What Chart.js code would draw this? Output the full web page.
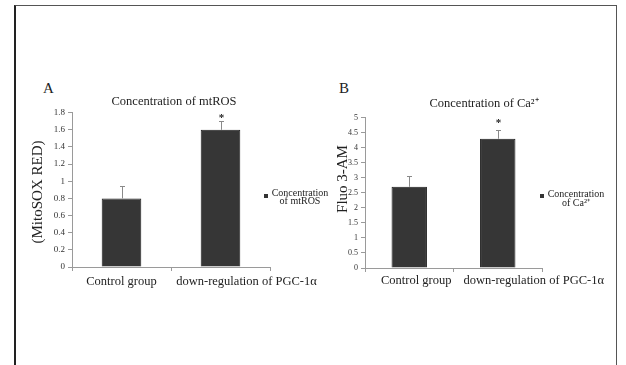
<!DOCTYPE html>
<html><head><meta charset="utf-8">
<script src="https://cdn.jsdelivr.net/npm/chart.js@4"></script>
<style>
html,body{margin:0;padding:0;background:#fff;width:626px;height:365px;overflow:hidden;position:relative;font-family:"Liberation Serif",serif;}
#frame{position:absolute;left:14px;top:5px;width:603px;height:400px;border-left:2px solid #222;border-top:1px solid #555;border-right:1px solid #555;box-sizing:border-box;}
.panel{position:absolute;font-family:"Liberation Serif",serif;font-size:15px;color:#222;line-height:15px;}
#wa{position:absolute;left:15px;top:75px;width:315px;height:225px;}
#wb{position:absolute;left:330px;top:75px;width:296px;height:225px;}
</style></head><body>
<div id="frame"></div>
<div class="panel" style="left:43px;top:81px;">A</div>
<div class="panel" style="left:339px;top:81px;">B</div>
<div id="wa"><canvas id="ca"></canvas></div>
<div id="wb"><canvas id="cb"></canvas></div>
<script>
// ---- data ----
const categories = ['Control group', 'down-regulation of PGC-1α'];
const mtrosValues = [0.8, 1.6];
const mtrosErrors = [0.15, 0.10];
const caValues = [2.7, 4.3];
const caErrors = [0.35, 0.28];
const significant = [false, true];
const mtrosAxisMax = 1.8, mtrosStep = 0.2;
const caAxisMax = 5, caStep = 0.5;
const titleA = 'Concentration of mtROS';
const titleB = 'Concentration of Ca²⁺';
const yTitleA = '(MitoSOX RED)';
const yTitleB = 'Fluo 3-AM';
const legendA = ['Concentration', 'of mtROS'];
const legendB = ['Concentration', 'of Ca²⁺'];

const SERIF = '"Liberation Serif", "Times New Roman", serif';

const decor = {
  id: 'decor',
  afterDatasetsDraw(chart, args, o) {
    const ctx = chart.ctx, xs = chart.scales.x, ys = chart.scales.y;
    const ds = chart.data.datasets[0];
    ctx.save();
    ds.data.forEach((v, i) => {
      const px = Math.round(xs.getPixelForValue(i)) + 0.5;
      const base = ys.getPixelForValue(v);
      const top = Math.round(ys.getPixelForValue(v + o.errors[i])) + 0.5;
      ctx.strokeStyle = '#8a8a8a'; ctx.lineWidth = 1;
      ctx.beginPath();
      ctx.moveTo(px, base); ctx.lineTo(px, top);
      ctx.moveTo(px - 2.5, top); ctx.lineTo(px + 2.5, top);
      ctx.stroke();
      if (o.significant[i]) {
        ctx.fillStyle = '#222';
        ctx.font = 'bold 11px ' + SERIF;
        ctx.textAlign = 'center'; ctx.textBaseline = 'middle';
        ctx.fillText('*', px, top - o.starGap + 3);
      }
    });
    ctx.restore();
  },
  afterDraw(chart, args, o) {
    const ctx = chart.ctx, xs = chart.scales.x;
    ctx.save();
    ctx.fillStyle = '#222';
    ctx.font = '12.5px ' + SERIF;
    ctx.textAlign = 'center'; ctx.textBaseline = 'middle';
    chart.data.labels.forEach((l, i) => {
      ctx.fillText(l, xs.getPixelForValue(i) + o.labelShift[i], xs.top + o.labelGap);
    });
    // y title
    ctx.save();
    ctx.translate(o.yTitlePos[0], o.yTitlePos[1]);
    ctx.rotate(-Math.PI / 2);
    ctx.font = '15px ' + SERIF;
    ctx.fillText(o.yTitle, 0, 0);
    ctx.restore();
    // legend
    const L = o.legend;
    ctx.fillStyle = '#333';
    ctx.fillRect(L.box[0] - 2, L.box[1] - 2, 4, 4);
    ctx.fillStyle = '#222';
    ctx.font = '10px ' + SERIF;
    L.lines.forEach((t, k) => ctx.fillText(t, L.text[0], L.text[1] + k * L.lh));
    ctx.restore();
  }
};

function makeChart(id, values, errors, max, step, title, yTitle, legendLines, lay) {
  return new Chart(document.getElementById(id), {
    type: 'bar',
    data: {
      labels: categories,
      datasets: [{
        label: title,
        data: values,
        backgroundColor: '#363636',
        borderColor: '#1c1c1c',
        borderWidth: 1,
        categoryPercentage: 1,
        barPercentage: 0.4
      }]
    },
    options: {
      responsive: true,
      maintainAspectRatio: false,
      animation: false,
      events: [],
      layout: { padding: { left: lay.pl, right: 0, top: 0, bottom: 0 } },
      plugins: {
        legend: { display: false },
        tooltip: { enabled: false },
        title: {
          display: true, text: title, color: '#222',
          font: { family: SERIF, size: 12.5, weight: 'normal', lineHeight: 1.2 },
          padding: { top: lay.tpt, bottom: lay.tpb }
        },
        decor: {
          errors: errors, significant: significant, starGap: lay.starGap,
          labelShift: lay.labelShift, labelGap: lay.labelGap,
          yTitle: yTitle, yTitlePos: lay.yTitlePos,
          legend: { box: lay.legBox, text: lay.legText, lh: lay.legLh, lines: legendLines }
        }
      },
      scales: {
        x: {
          grid: { display: true, drawOnChartArea: false, drawTicks: true, tickLength: 4, color: '#9a9a9a', offset: true },
          border: { display: true, color: '#9a9a9a', width: 1 },
          ticks: { display: false },
          afterFit(s) { s.height = lay.xh; }
        },
        y: {
          min: 0, max: max,
          grid: { display: true, drawOnChartArea: false, drawTicks: true, tickLength: 4, color: '#9a9a9a' },
          border: { display: true, color: '#9a9a9a', width: 1 },
          ticks: {
            stepSize: step, padding: 3, color: '#333',
            font: { family: SERIF, size: lay.tickSize },
            callback: v => String(+Number(v).toFixed(2))
          },
          afterFit(s) { s.width = lay.yw; }
        },
        y2: {
          position: 'right', display: true,
          grid: { display: false }, border: { display: false },
          ticks: { display: false },
          afterFit(s) { s.width = lay.y2w; }
        }
      }
    },
    plugins: [decor]
  });
}

makeChart('ca', mtrosValues, mtrosErrors, mtrosAxisMax, mtrosStep, titleA, yTitleA, legendA, {
  pl: 3, yw: 54, y2w: 60, xh: 33, tpt: 19.2, tpb: 3.5, tickSize: 9, starGap: 6,
  labelShift: [0, 26], labelGap: 15, yTitlePos: [23, 117],
  legBox: [251, 121], legText: [285, 118], legLh: 8.5
});
makeChart('cb', caValues, caErrors, caAxisMax, caStep, titleB, yTitleB, legendB, {
  pl: 12, yw: 23, y2w: 84, xh: 32, tpt: 20.8, tpb: 6.9, tickSize: 8, starGap: 10,
  labelShift: [7, 36], labelGap: 13, yTitlePos: [13, 104],
  legBox: [212, 121], legText: [246, 119], legLh: 9
});
</script>
</body></html>
